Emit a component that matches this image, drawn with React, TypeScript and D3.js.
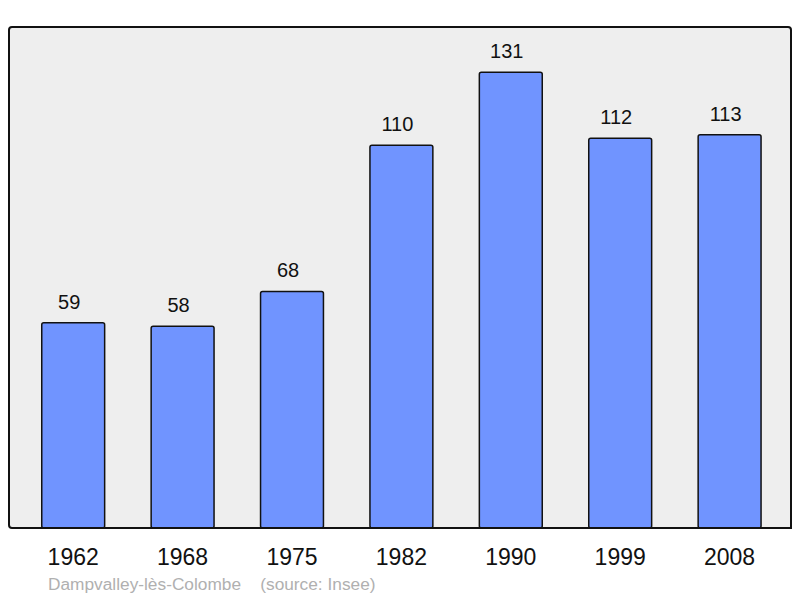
import React, { useEffect, useRef } from 'react';
import * as d3 from 'd3';

const years = ['1962', '1968', '1975', '1982', '1990', '1999', '2008'];
const population = [59, 58, 68, 110, 131, 112, 113];
const commune = 'Dampvalley-lès-Colombe';
const source = '(source: Insee)';

export default function App() {
  const svgRef = useRef<SVGSVGElement>(null);

  useEffect(() => {
    const width = 800;
    const height = 598;
    const frame = { left: 9, top: 27, right: 791, bottom: 528 };

    const svg = d3.select(svgRef.current)
      .attr('width', width)
      .attr('height', height)
      .style('display', 'block')
      .style('overflow', 'visible')
      .style('font-family', 'Liberation Sans, Arial, sans-serif');
    svg.selectAll('*').remove();

    // plot area background
    svg.append('rect')
      .attr('x', frame.left)
      .attr('y', frame.top)
      .attr('width', frame.right - frame.left)
      .attr('height', frame.bottom - frame.top)
      .attr('rx', 3)
      .attr('fill', '#eeeeee')
      .attr('stroke', 'none');

    // scales
    const xScale = d3.scaleBand()
      .domain(years)
      .range([frame.left + 9.5, frame.left + 9.5 + 109.4 * years.length])
      .paddingInner(0.425)
      .paddingOuter(0.2125);
    const yScale = d3.scaleLinear()
      .domain([0, 144])
      .range([frame.bottom, frame.top]);

    // bars
    svg.selectAll('.bar')
      .data(population)
      .join('rect')
        .attr('class', 'bar')
        .attr('x', (d, i) => xScale(years[i])!)
        .attr('y', d => yScale(d))
        .attr('width', xScale.bandwidth())
        .attr('height', d => frame.bottom - yScale(d))
        .attr('rx', 2)
        .attr('fill', '#7094ff')
        .attr('stroke', '#111')
        .attr('stroke-width', 1.5);

    // value labels
    svg.selectAll('.value')
      .data(population)
      .join('text')
        .attr('class', 'value')
        .attr('x', (d, i) => xScale(years[i])! + xScale.bandwidth() / 2 - 4)
        .attr('y', d => yScale(d) - 14)
        .attr('text-anchor', 'middle')
        .attr('font-size', 20)
        .attr('fill', '#111')
        .text(d => d);

    // frame
    svg.append('path')
      .attr('d', `M${frame.left},${frame.top + 3} Q${frame.left},${frame.top} ${frame.left + 3},${frame.top} L${frame.right - 3},${frame.top} Q${frame.right},${frame.top} ${frame.right},${frame.top + 3} L${frame.right},${frame.bottom} L${frame.left + 3},${frame.bottom} Q${frame.left},${frame.bottom} ${frame.left},${frame.bottom - 3} Z`)
      .attr('fill', 'none')
      .attr('stroke', '#111')
      .attr('stroke-width', 2);

    // year labels
    svg.selectAll('.year')
      .data(years)
      .join('text')
        .attr('class', 'year')
        .attr('x', d => xScale(d)! + xScale.bandwidth() / 2)
        .attr('y', 565)
        .attr('text-anchor', 'middle')
        .attr('font-size', 23)
        .attr('fill', '#111')
        .text(d => d);

    // footer
    svg.append('text')
      .attr('x', 48)
      .attr('y', 590)
      .attr('font-size', 17.3)
      .attr('fill', '#b0b0b0')
      .attr('xml:space', 'preserve')
      .text(`${commune}    ${source}`);
  }, []);

  return (
    <div style={{ position: 'absolute', left: 0, top: 0 }}>
      <svg ref={svgRef}></svg>
    </div>
  );
}
